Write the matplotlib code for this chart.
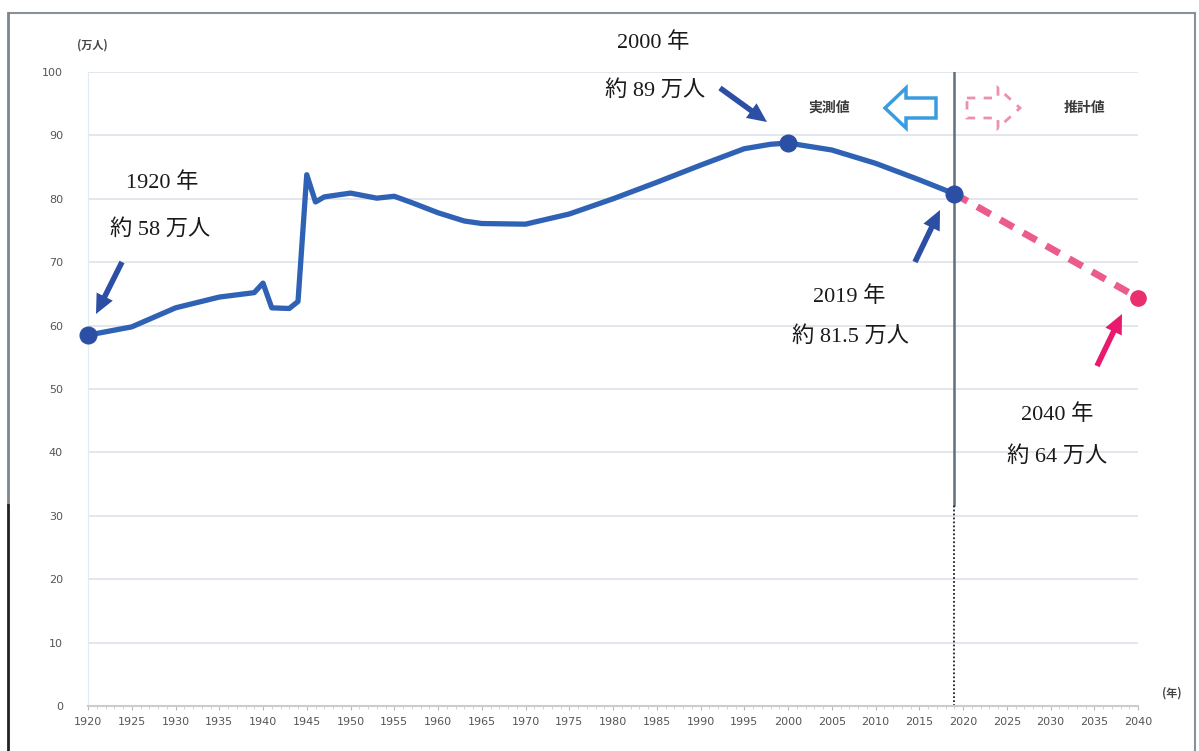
import matplotlib
matplotlib.use("Agg")
import matplotlib.pyplot as plt
from matplotlib.lines import Line2D
from matplotlib.patches import Polygon
from matplotlib.ticker import MultipleLocator

# ---- data ----
years_actual = [1920, 1925, 1930, 1935, 1939, 1940, 1941, 1943, 1944, 1945, 1946, 1947,
                1950, 1953, 1955, 1957, 1960, 1963, 1965, 1970, 1975, 1980, 1985, 1990,
                1995, 1998, 2000, 2005, 2010, 2015, 2019]
pop_actual = [58.5, 59.8, 62.8, 64.5, 65.2, 66.7, 62.8, 62.7, 63.8, 83.8, 79.5, 80.3,
              80.9, 80.1, 80.4, 79.4, 77.8, 76.5, 76.1, 76.0, 77.6, 80.0, 82.6, 85.3,
              87.9, 88.6, 88.8, 87.7, 85.6, 83.0, 80.8]
years_proj = [2019, 2040]
pop_proj = [80.8, 64.4]
highlight_years = [1920, 2000, 2019]
highlight_pop = [58.5, 88.8, 80.8]
xticks = list(range(1920, 2041, 5))
yticks = list(range(0, 101, 10))
divider_year = 2019

W, H = 1199, 751
fig = plt.figure(figsize=(W / 100, H / 100), dpi=100)
ax = fig.add_axes([88 / W, 1 - 706 / H, (1138 - 88) / W, (706 - 72) / H])

SERIF = ['Liberation Serif', 'Noto Sans CJK JP']
CJK = ['Noto Sans CJK JP', 'DejaVu Sans']

ax.set_xlim(1920, 2040)
ax.set_ylim(0, 100)
ax.set_xticks(xticks)
ax.set_yticks(yticks)
ax.xaxis.set_minor_locator(MultipleLocator(1))
ax.tick_params(axis='y', length=0, labelsize=8, labelcolor='#555555', pad=18)
ax.tick_params(axis='x', which='major', length=3, color='#bbbbbb', labelsize=8,
               labelcolor='#555555', pad=5)
ax.tick_params(axis='x', which='minor', length=2, color='#cccccc')
ax.grid(axis='y', color='#dbe3ea', lw=1.2)
ax.set_axisbelow(True)
for s in ['top', 'right']:
    ax.spines[s].set_visible(False)
ax.spines['left'].set_color('#e3ebf2')
ax.spines['bottom'].set_color('#cccccc')
ax.spines['bottom'].set_linewidth(1.5)

# divider line
split = 31.7 / 100
ax.axvline(divider_year, ymin=split, ymax=1.0, color='#5f6f7c', lw=1.8, zorder=2)
ax.axvline(divider_year, ymin=0, ymax=split, color='#222222', lw=1.3,
           linestyle=(0, (1, 1.2)), zorder=2)

# series
ax.plot(years_actual, pop_actual, color='#2f62b5', lw=3.8, solid_joinstyle='round',
        solid_capstyle='round', zorder=4)
ax.plot(years_proj, pop_proj, color='#ec5c8a', lw=5, linestyle=(0, (2.2, 1.6)), zorder=3)
ax.plot(highlight_years, highlight_pop, 'o', color='#2c4fa6', ms=12, zorder=5,
        clip_on=False)
ax.plot(years_proj[-1:], pop_proj[-1:], 'o', color='#ea2f6f', ms=11, zorder=5,
        clip_on=False)


def fx(x):
    return x / W


def fy(y):
    return 1 - y / H


# annotations
texts = [
    ("1920 年", 162, 183), ("約 58 万人", 160, 229),
    ("2000 年", 653, 43), ("約 89 万人", 655, 90),
    ("2019 年", 849, 297), ("約 81.5 万人", 850, 336),
    ("2040 年", 1057, 415), ("約 64 万人", 1057, 456),
]
for t, x, y in texts:
    fig.text(fx(x), fy(y), t, ha='center', va='center', fontsize=16,
             family=SERIF, color='#1a1a1a')

arrows = [
    ((122, 262), (96, 314), '#2d4ea5'),
    ((720, 88), (767, 122), '#2d4ea5'),
    ((915, 262), (940, 210), '#2d4ea5'),
    ((1097, 366), (1122, 314), '#e8196e'),
]
for (x0, y0), (x1, y1), c in arrows:
    ax.annotate('', xy=(x1, H - y1), xytext=(x0, H - y0),
                xycoords='figure pixels', textcoords='figure pixels',
                arrowprops=dict(arrowstyle='simple,head_length=0.7,head_width=0.65,tail_width=0.2',
                                mutation_scale=20, facecolor=c, edgecolor='none',
                                shrinkA=0, shrinkB=0))

# axis unit labels
fig.text(fx(92), fy(45), "(万人)", ha='center', va='center', fontsize=8,
         family=CJK, color='#444444', weight='bold')
fig.text(fx(1172), fy(693), "(年)", ha='center', va='center', fontsize=8,
         family=CJK, color='#444444', weight='bold')

# legend
fig.text(fx(829), fy(108), "実測値", ha='center', va='center', fontsize=10,
         family=CJK, color='#3a3a3a', weight='bold')
fig.text(fx(1085), fy(108), "推計値", ha='center', va='center', fontsize=10,
         family=CJK, color='#3a3a3a', weight='bold')
left_arrow = [(885, 108), (906, 88), (906, 98), (936, 98), (936, 118), (906, 118), (906, 128)]
fig.add_artist(Polygon([(fx(x), fy(y)) for x, y in left_arrow], closed=True,
                       transform=fig.transFigure, facecolor='white',
                       edgecolor='#3b9be0', lw=2.5))
right_arrow = [(967, 98), (998, 98), (998, 88), (1020, 108), (998, 128), (998, 118), (967, 118)]
fig.add_artist(Polygon([(fx(x), fy(y)) for x, y in right_arrow], closed=True,
                       transform=fig.transFigure, facecolor='none',
                       edgecolor='#ec8fb0', lw=2, linestyle=(0, (3, 3))))

# outer frame
fig.add_artist(Line2D([fx(9), fx(1195)], [fy(13), fy(13)], color='#8a9098', lw=1.5,
                      transform=fig.transFigure))
fig.add_artist(Line2D([fx(8), fx(8)], [fy(13), fy(505)], color='#7d858d', lw=2,
                      transform=fig.transFigure))
fig.add_artist(Line2D([fx(8), fx(8)], [fy(505), fy(751)], color='#222222', lw=2,
                      transform=fig.transFigure))
fig.add_artist(Line2D([fx(1195), fx(1195)], [fy(13), fy(751)], color='#8a9098', lw=1.5,
                      transform=fig.transFigure))

fig.savefig("out.png", dpi=100)
